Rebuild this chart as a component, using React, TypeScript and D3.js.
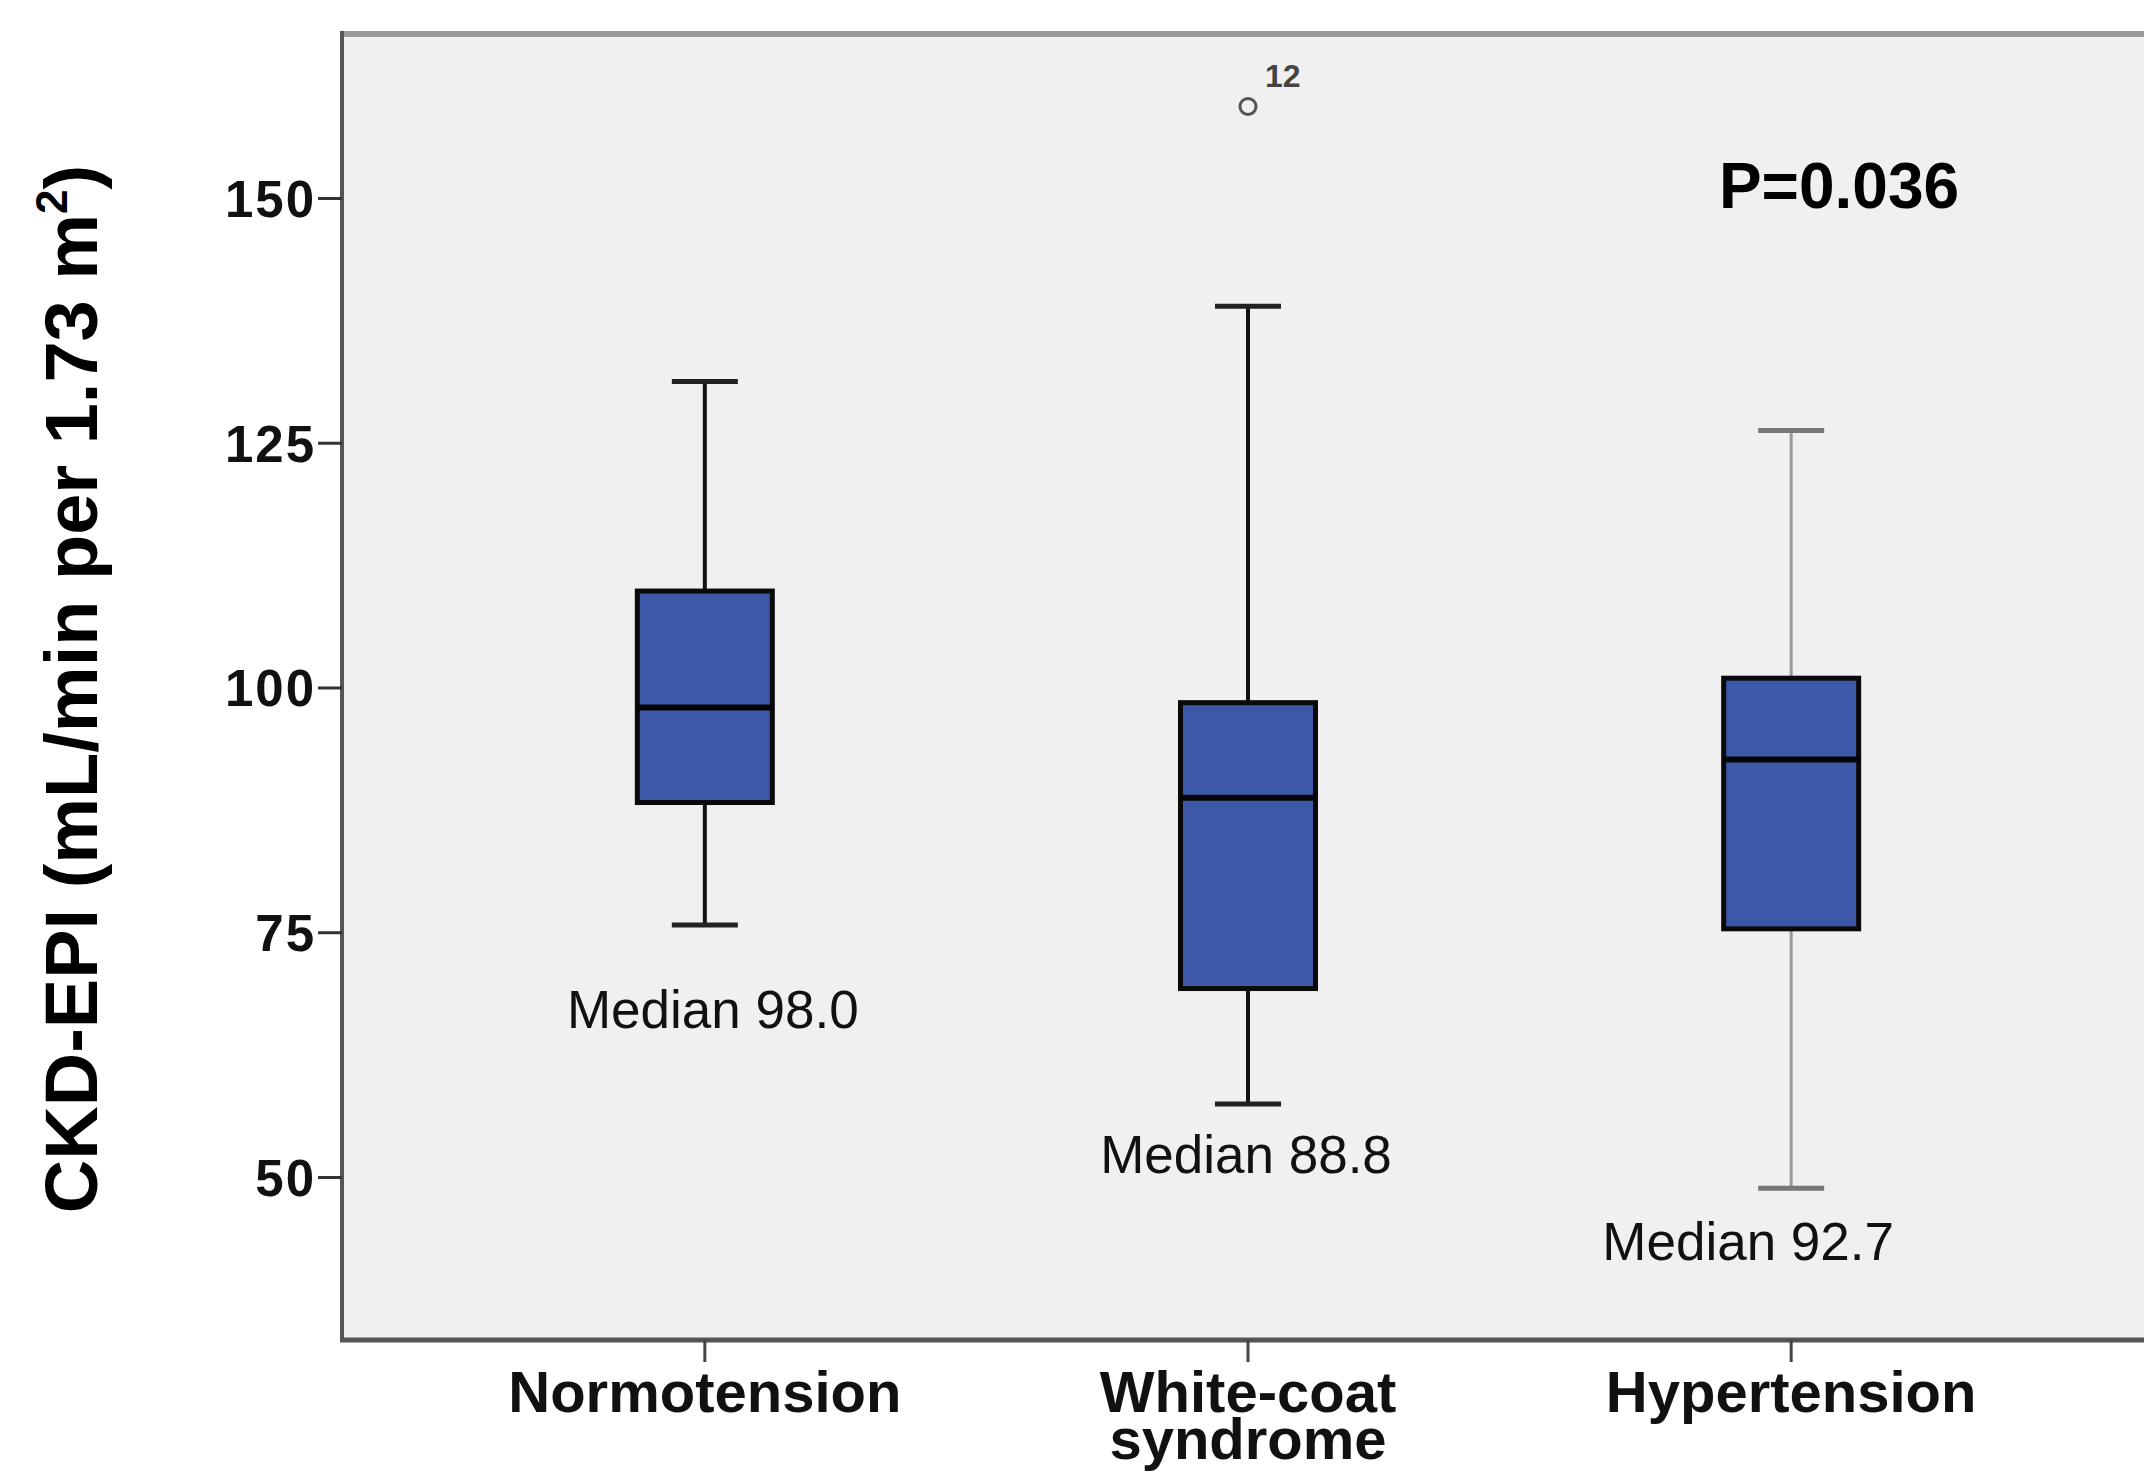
import React from "react";
import * as d3 from "d3";

const categories = ["Normotension", "White-coat syndrome", "Hypertension"];
const categoryLines = [["Normotension"], ["White-coat", "syndrome"], ["Hypertension"]];
const whiskerLow = [75.8, 57.5, 48.9];
const q1 = [88.3, 69.3, 75.4];
const medians = [98.0, 88.8, 92.7];
const q3 = [109.9, 98.5, 101.0];
const whiskerHigh = [131.3, 139.0, 126.3];
const medianLabels = ["Median 98.0", "Median 88.8", "Median 92.7"];
const medianLabelValues = [65.3, 50.5, 41.6];
const medianLabelShift = [8, -2, -43];
const outliers = [{ cat: 1, value: 159.4, label: "12" }];
const yTicks = [50, 75, 100, 125, 150];
const pText = "P=0.036";
const yTitle = "CKD-EPI (mL/min per 1.73 m";

const W = 2144;
const H = 1473;
const left = 342;
const top = 34;
const bottom = 1340;
const right = 2154;

export default function App() {
  const y = d3.scaleLinear().domain([33.4, 166.8]).range([bottom, top]);
  const x = d3.scalePoint<string>().domain(categories).range([left, right]).padding(0.668);
  const boxW = 135;
  const capW = 66;
  const font = "'Liberation Sans', Arial, sans-serif";

  return (
    <div style={{ position: "absolute", left: 0, top: 0 }}>
      <svg width={W} height={H} style={{ display: "block" }} fontFamily={font}>
        <rect x={0} y={0} width={W} height={H} fill="#ffffff" />
        <rect x={left} y={top} width={W - left} height={bottom - top} fill="#f0f0f0" />
        {/* frame */}
        <line x1={left} x2={W} y1={top} y2={top} stroke="#9a9a9a" strokeWidth={6} />
        <line x1={left} x2={left} y1={top - 3} y2={bottom} stroke="#555" strokeWidth={4} />
        <line x1={left - 2} x2={W} y1={bottom} y2={bottom} stroke="#555" strokeWidth={5} />

        {/* y ticks */}
        {yTicks.map((t) => (
          <g key={t}>
            <line x1={left - 24} x2={left} y1={y(t)} y2={y(t)} stroke="#333" strokeWidth={3} />
            <text
              x={left - 26}
              y={y(t)}
              dy="0.36em"
              textAnchor="end"
              fontSize={51}
              fontWeight="bold"
              letterSpacing={2}
              fill="#111"
            >
              {t}
            </text>
          </g>
        ))}

        {/* x ticks & labels */}
        {categories.map((c, i) => (
          <g key={c}>
            <line x1={x(c)!} x2={x(c)!} y1={bottom} y2={bottom + 22} stroke="#444" strokeWidth={3} />
            <text
              x={x(c)!}
              y={1412}
              textAnchor="middle"
              fontSize={58}
              fontWeight="bold"
              fill="#111"
            >
              {categoryLines[i].map((ln, j) => (
                <tspan key={ln} x={x(c)!} dy={j === 0 ? 0 : 47}>
                  {ln}
                </tspan>
              ))}
            </text>
          </g>
        ))}

        {/* boxes */}
        {categories.map((c, i) => {
          const cx = x(c)!;
          const gray = i === 2;
          const wStroke = gray ? "#999" : "#111";
          const capStroke = gray ? "#777" : "#222";
          const wW = gray ? 3 : 4;
          return (
            <g key={c}>
              <line x1={cx} x2={cx} y1={y(whiskerHigh[i])} y2={y(q3[i])} stroke={wStroke} strokeWidth={wW} />
              <line x1={cx} x2={cx} y1={y(q1[i])} y2={y(whiskerLow[i])} stroke={wStroke} strokeWidth={wW} />
              <line x1={cx - capW / 2} x2={cx + capW / 2} y1={y(whiskerHigh[i])} y2={y(whiskerHigh[i])} stroke={capStroke} strokeWidth={5} />
              <line x1={cx - capW / 2} x2={cx + capW / 2} y1={y(whiskerLow[i])} y2={y(whiskerLow[i])} stroke={capStroke} strokeWidth={5} />
              <rect
                x={cx - boxW / 2}
                y={y(q3[i])}
                width={boxW}
                height={y(q1[i]) - y(q3[i])}
                fill="#3d57a9"
                stroke="#0a0a0a"
                strokeWidth={5}
              />
              <line x1={cx - boxW / 2} x2={cx + boxW / 2} y1={y(medians[i])} y2={y(medians[i])} stroke="#050505" strokeWidth={6} />
              <text
                x={cx + medianLabelShift[i]}
                y={y(medianLabelValues[i])}
                textAnchor="middle"
                fontSize={53}
                fill="#111"
              >
                {medianLabels[i]}
              </text>
            </g>
          );
        })}

        {/* outliers */}
        {outliers.map((o, k) => {
          const cx = x(categories[o.cat])!;
          return (
            <g key={k}>
              <circle cx={cx} cy={y(o.value)} r={8} fill="none" stroke="#555" strokeWidth={3} />
              <text x={cx + 17} y={y(o.value) - 19} fontSize={32} fontWeight="bold" fill="#444">
                {o.label}
              </text>
            </g>
          );
        })}

        {/* P value */}
        <text x={1839} y={208} textAnchor="middle" fontSize={64} fontWeight="bold" fill="#000">
          {pText}
        </text>

        {/* y-axis title */}
        <text
          transform={`translate(97, 689) rotate(-90)`}
          textAnchor="middle"
          fontSize={74}
          fontWeight="bold"
          fill="#000"
        >
          {yTitle}
          <tspan fontSize={44} dy={-30}>2</tspan>
          <tspan dy={30}>)</tspan>
        </text>
      </svg>
    </div>
  );
}
